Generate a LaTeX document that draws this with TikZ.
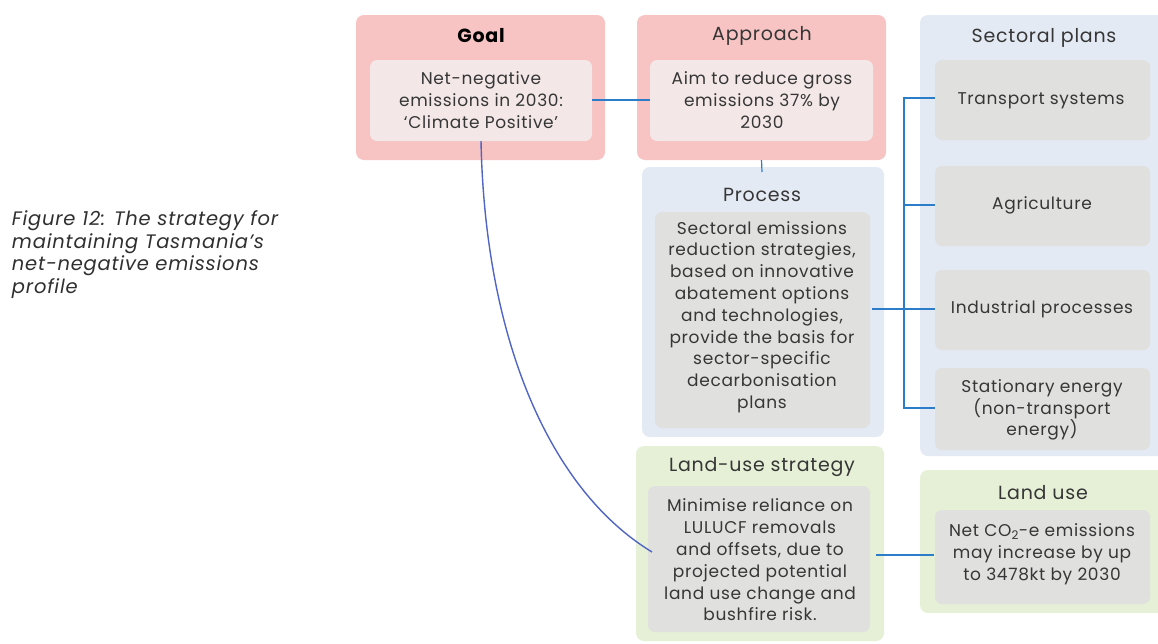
\documentclass[tikz,border=0pt]{standalone}
\usepackage{fontspec}
\setmainfont{Poppins}[LetterSpace=4]
\begin{document}
\begin{tikzpicture}[x=1pt,y=-1pt,
  every node/.style={inner sep=0pt, outer sep=0pt},
  pinkbox/.style={fill=pinkc, rounded corners=8pt},
  bluebox/.style={fill=bluec, rounded corners=8pt},
  greenbox/.style={fill=greenc, rounded corners=8pt},
  inlight/.style={fill=lightc, rounded corners=7pt},
  ingrey/.style={fill=greyc, rounded corners=7pt},
  ttl/.style={text=txtc, font=\fontsize{19}{24}\selectfont, anchor=center},
  ttlb/.style={text=black, font=\fontsize{19}{24}\selectfont\bfseries, anchor=center},
  txt/.style={text=txtc, font=\fontsize{17}{21.8}\selectfont, align=center, anchor=center},
  link/.style={draw=linkc, line width=1.6pt},
  curvelink/.style={draw=curvec, line width=1.4pt}
]
\definecolor{pinkc}{HTML}{F7C3C3}
\definecolor{lightc}{HTML}{F3E8E7}
\definecolor{bluec}{HTML}{E4EAF3}
\definecolor{greenc}{HTML}{E5F0D6}
\definecolor{greyc}{HTML}{E0E0DF}
\definecolor{txtc}{HTML}{363636}
\definecolor{linkc}{HTML}{2B7CC9}
\definecolor{curvec}{HTML}{5065C4}
\definecolor{capc}{HTML}{303030}

\useasboundingbox[fill=white] (0,0) rectangle (1158,643);

% caption
\node[text=capc, font=\fontsize{19.5}{22.4}\selectfont\itshape, align=left, anchor=north west] (caption) at (12,211)
 {Figure 12: The strategy for\\maintaining Tasmania’s\\net-negative emissions\\profile};

% Goal
\path[pinkbox] (356,15) rectangle (605,160);
\node[minimum width=249pt, minimum height=145pt] (goal) at (480.5,87.5) {};
\node[ttlb] (goalttl) at (481,36) {Goal};
\path[inlight] (370,60) rectangle (592,141);
\node[minimum width=222pt, minimum height=81pt] (goalin) at (481,100.5) {};
\node[txt] (goaltxt) at (481,100) {Net-negative\\emissions in 2030:\\‘Climate Positive’};

% Approach
\path[pinkbox] (637,15) rectangle (886,160);
\node[minimum width=249pt, minimum height=145pt] (appr) at (761.5,87.5) {};
\node[ttl] (apprttl) at (762,36) {Approach};
\path[inlight] (650,60) rectangle (873,141);
\node[minimum width=223pt, minimum height=81pt] (apprin) at (761.5,100.5) {};
\node[txt] (apprtxt) at (762,100) {Aim to reduce gross\\emissions 37\% by\\2030};

% Process
\path[bluebox] (642,167) rectangle (884,437);
\node[minimum width=242pt, minimum height=270pt] (proc) at (763,302) {};
\node[ttl] (procttl) at (762,195) {Process};
\path[ingrey] (655,212) rectangle (870,428);
\node[minimum width=215pt, minimum height=216pt] (procin) at (762.5,320) {};
\node[txt] (proctxt) at (762,317) {Sectoral emissions\\reduction strategies,\\based on innovative\\abatement options\\and technologies,\\provide the basis for\\sector-specific\\decarbonisation\\plans};

% Sectoral plans
\path[bluebox] (920,15) rectangle (1166,456);
\node[minimum width=238pt, minimum height=441pt] (sect) at (1039,235.5) {};
\node[ttl] (sectttl) at (1044,38) {Sectoral plans};
\path[ingrey] (935,60) rectangle (1150,140);
\node[minimum width=215pt, minimum height=80pt] (trans) at (1042.5,100) {};
\node[txt] (transtxt) at (1041,101) {Transport systems};
\path[ingrey] (935,166) rectangle (1150,246);
\node[minimum width=215pt, minimum height=80pt] (agri) at (1042.5,206) {};
\node[txt] (agritxt) at (1042,205) {Agriculture};
\path[ingrey] (935,270) rectangle (1150,350);
\node[minimum width=215pt, minimum height=80pt] (indu) at (1042.5,310) {};
\node[txt] (indutxt) at (1042,309) {Industrial processes};
\path[ingrey] (935,368) rectangle (1150,450);
\node[minimum width=215pt, minimum height=82pt] (stat) at (1042.5,409) {};
\node[txt] (stattxt) at (1042,410) {Stationary energy\\(non-transport\\energy)};

% Land-use strategy
\path[greenbox] (636,446) rectangle (884,641);
\node[minimum width=248pt, minimum height=195pt] (lus) at (760,543.5) {};
\node[ttl] (lusttl) at (762,467) {Land-use strategy};
\path[ingrey] (648,486) rectangle (870,632);
\node[minimum width=222pt, minimum height=146pt] (lusin) at (759,559) {};
\node[txt] (lustxt) at (760,560) {Minimise reliance on\\LULUCF removals\\and offsets, due to\\projected potential\\land use change and\\bushfire risk.};

% Land use
\path[greenbox] (920,470) rectangle (1166,613);
\node[minimum width=238pt, minimum height=143pt] (lu) at (1039,541.5) {};
\node[ttl] (luttl) at (1043,493) {Land use};
\path[ingrey] (935,510) rectangle (1150,604);
\node[minimum width=215pt, minimum height=94pt] (luin) at (1042.5,557) {};
\node[txt] (lutxt) at (1042,554) {Net CO\textsubscript{2}-e emissions\\may increase by up\\to 3478kt by 2030};

% connectors
\coordinate (brackbot) at (904,408);
\draw[link] (goalin.east |- 0,100) -- (apprin.west |- 0,100);
\draw[link, line width=1.2pt] (appr.south) -- (762,172);
\draw[link] (872,309) -- (904,309);
\draw[link] (935,98) -| (brackbot) -- (935,408);
\draw[link] (904,205) -- (935,205);
\draw[link] (904,309) -- (935,309);
\draw[link] (876,555) -- (934,555);
\draw[curvelink] (481,141) .. controls (485,340) and (550,490) .. (652,552);
\end{tikzpicture}
\end{document}
